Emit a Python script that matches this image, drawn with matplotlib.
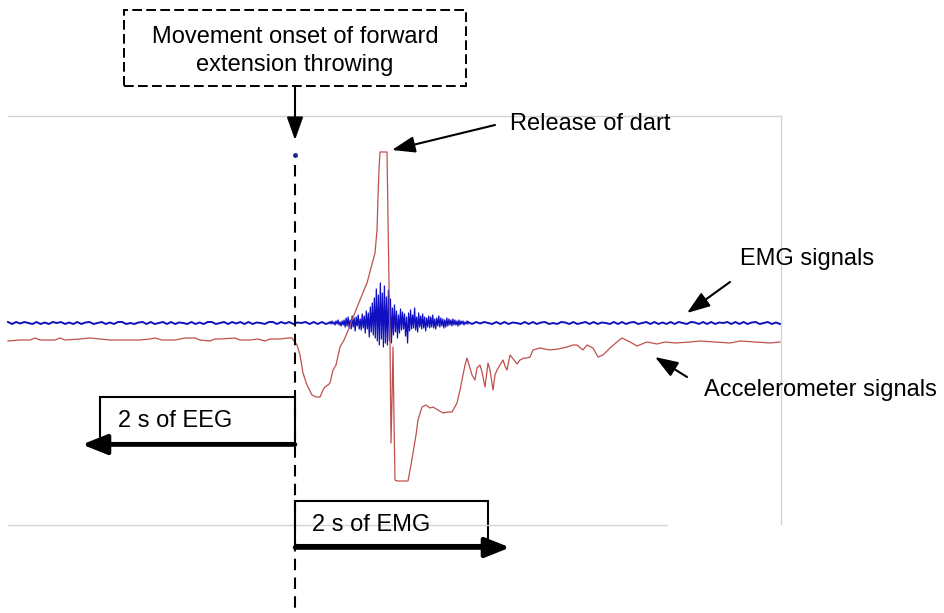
import matplotlib.pyplot as plt
import numpy as np
from matplotlib.patches import Rectangle

plt.rcParams['font.family'] = ['Liberation Sans', 'DejaVu Sans']

# accelerometer trace: time from movement onset (s), amplitude (a.u.)
acc_t = [-2.87, -2.75, -2.65, -2.60, -2.55, -2.40, -2.35, -2.30, -2.15, -2.05,
         -1.95, -1.85, -1.70, -1.55, -1.45, -1.40, -1.33, -1.20, -1.10, -1.00,
         -0.95, -0.85, -0.80, -0.75, -0.60, -0.55, -0.45, -0.37, -0.30, -0.25,
         -0.15, -0.07, -0.03, 0.02, 0.05, 0.08, 0.12, 0.17, 0.21, 0.25,
         0.28, 0.30, 0.33, 0.35, 0.38, 0.41, 0.45, 0.49, 0.52, 0.55,
         0.57, 0.61, 0.65, 0.69, 0.72, 0.76, 0.80, 0.82, 0.83, 0.84,
         0.85, 0.92, 0.93, 0.94, 0.95, 0.96, 0.97, 0.98, 0.99, 1.00,
         1.02, 1.13, 1.16, 1.18, 1.21, 1.23, 1.27, 1.31, 1.35, 1.38,
         1.43, 1.48, 1.53, 1.57, 1.62, 1.65, 1.67, 1.70, 1.72, 1.75,
         1.77, 1.80, 1.82, 1.85, 1.87, 1.90, 1.93, 1.95, 1.98, 2.00,
         2.02, 2.05, 2.08, 2.10, 2.12, 2.15, 2.19, 2.22, 2.25, 2.29,
         2.32, 2.35, 2.38, 2.45, 2.55, 2.63, 2.72, 2.78, 2.82, 2.88,
         2.92, 2.98, 3.03, 3.08, 3.15, 3.22, 3.27, 3.35, 3.42, 3.52,
         3.62, 3.70, 3.80, 3.95, 4.05, 4.20, 4.35, 4.45, 4.60, 4.75, 4.85]
acc_v = [-1, 0, 0, 2, 0, 0, 2, 0, 1, 2,
         1, 0, 0, 0, 1, 2, 0, 0, 2, 2,
         0, -1, 1, 1, 2, 0, 0, 1, -1, 1,
         1, 2, 2, -5, -15, -33, -45, -55, -57, -57,
         -50, -47, -45, -43, -30, -25, -7, 0, 7, 14,
         20, 30, 40, 50, 57, 72, 87, 110, 143, 170,
         188, 188, 120, 57, 0, -103, -60, -7, -80, -140,
         -141, -141, -125, -113, -95, -80, -67, -65, -68, -67,
         -70, -73, -72, -72, -63, -50, -40, -25, -18, -28,
         -35, -40, -28, -25, -32, -47, -23, -30, -50, -35,
         -30, -25, -20, -26, -30, -15, -20, -24, -20, -18,
         -18, -17, -10, -8, -10, -9, -7, -5, -5, -10,
         -5, -8, -17, -15, -8, -2, 2, -2, -6, -2,
         -4, -2, -3, -2, -1, -2, -3, -1, -2, -3, -2]

# EMG trace, three stretches: rest, burst around the release, rest
emg_pre = [1, -1, 1, -0.5, 1, 0, -1, 1, -1, 0.5, -1, 1, 0, 1, -1, 0.5, -1, 1, -1, 0.5,
           1, -1, 0, 1, -1, 0.5, -1, 1, 1, -1, 0, -1, 0.5, 1, -1, 1, -1, 0, 1, -1,
           1, -1, 0.5, 0, -1, 1, -1, 0.5, -1, 1, 1, -1, 0, 1, -1, 1, -0.5, 1, -1, 1,
           -1, 0.5, 0, -1, 1, 1, -1, 1, -0.5, 1, -1, 0.5, 0, 1, -1, 1, -1, 1, -1, 0.5]
emg_burst = [1, -1, 2, -1, 1, -2, 2, -1, 3, -2, 1, -3, 2, -2, 3,
             -4, 5, -3, 6, -5, 3, -6, 7, -4, 5, -8, 6, -3, 8, -6,
             4, -7, 9, -5, 7, -10, 12, -6, 10, -14, 16, -9, 20, -12, 25,
             -15, 34, -18, 28, -22, 40, -16, 30, -24, 37, -20, 26, -22, 33, -18, 24, -20,
             15, -12, 18, -9, 12, -15, 8, -10, 14, -7, 11, -6, 9, -13, 6, -20, 10, -8,
             13, -6, 8, -5, 15, -7, 6, -9, 10, -4, 7, -6, 9, -5, 6, -8, 5, -4, 7, -5,
             6, -4, 8, -5, 4, -6, 5, -3, 7, -4, 5, -3, 4, -5, 3, -4, 5, -3, 4, -2,
             3, -3, 4, -2, 3, -2, 2, -3, 3, -2, 2, -1, 2, -2, 1, -1, 2, -1]
emg_post = [1, -1, 1, -0.5, 1, 0, -1, 1, -1, 1, -1, 0.5, 0, -1, 1, -1, 1, -1, 0.5, 1,
            -1, 0, -1, 1, 0.5, -1, 1, -1, 0, 1, -1, 1, -1, 0.5, 0, -1, 1, -1, 1, -1,
            0.5, 1, -1, 0, 1, -1, 1, -1, 0.5, -1, 1, -1, 1, 0, -1, 1, 0.5, -1, 1, -1,
            1, -1, 0.5, 0, 1, -1, 1, -1, 1, -1, 0.5, 1, -1, 0, 1, -1, 0.5, -1]
emg_offset = 17

t_pre = np.linspace(-2.87, 0.35, len(emg_pre))
t_burst = np.linspace(0.35, 1.73, len(emg_burst))
t_post = np.linspace(1.73, 4.85, len(emg_post))

fig = plt.figure(figsize=(9.45, 6.13), dpi=100)
ax = fig.add_axes([0, 0, 1, 1])
ax.set_xlim(-2.95, 6.50)
ax.set_ylim(-273, 340)
ax.axis('off')

# light frame of the recording window
frame = '#d4d4d4'
ax.plot([-2.87, 4.86], [224, 224], color=frame, lw=1)
ax.plot([4.86, 4.86], [224, -184], color=frame, lw=1)
ax.plot([-2.87, 3.72], [-185, -185], color=frame, lw=1)

emg_col = '#1010c0'
ax.plot(t_pre, np.array(emg_pre) + emg_offset, color=emg_col, lw=1.4)
ax.plot(t_burst, np.array(emg_burst) + emg_offset, color=emg_col, lw=0.9)
ax.plot(t_post, np.array(emg_post) + emg_offset, color=emg_col, lw=1.4)
ax.plot(acc_t, acc_v, color='#c0504d', lw=0.9)

thin = dict(arrowstyle='-|>,head_length=0.7,head_width=0.25', lw=1.5,
            color='k', mutation_scale=20, shrinkA=0, shrinkB=0)
thick = dict(arrowstyle='-|>,head_length=0.75,head_width=0.3', lw=3.3,
             color='k', mutation_scale=20, shrinkA=0, shrinkB=0)

# onset marker
ax.plot([0], [185], 'o', color='#20208a', ms=2.5)
ax.plot([0, 0], [175, -273], color='k', lw=1.5, ls=(0, (5.5, 3.5)))

ax.add_patch(Rectangle((-1.71, 254), 3.42, 76, fill=False, lw=1.4,
                       ls=(0, (5, 2.2)), ec='k'))
ax.text(0, 289, 'Movement onset of forward\nextension throwing', ha='center',
        va='center', fontsize=17, linespacing=1.35)
ax.annotate('', xy=(0, 200), xytext=(0, 254), arrowprops=thin)

# release of dart points at the top of the accelerometer peak
acc_arr = np.array(acc_v)
i_peak = np.where(acc_arr == acc_arr.max())[0][-1]
ax.text(2.15, 216, 'Release of dart', ha='left', va='center', fontsize=17)
ax.annotate('', xy=(acc_t[i_peak] + 0.05, acc_arr.max() + 2), xytext=(2.0, 215),
            arrowprops=thin)

ax.text(4.45, 81, 'EMG signals', ha='left', va='center', fontsize=17)
ax.annotate('', xy=(3.92, 27), xytext=(4.35, 58), arrowprops=thin)

ax.text(4.09, -50, 'Accelerometer signals', ha='left', va='center', fontsize=17)
ax.annotate('', xy=(3.60, -17), xytext=(3.92, -37), arrowprops=thin)

# analysis windows
ax.add_patch(Rectangle((-1.95, -103), 1.95, 46, fill=False, lw=1.5, ec='k'))
ax.text(-1.77, -81, '2 s of EEG', ha='left', va='center', fontsize=17)
ax.annotate('', xy=(-2.13, -104.5), xytext=(0, -104.5), arrowprops=thick)

ax.add_patch(Rectangle((0, -205), 1.93, 44, fill=False, lw=1.5, ec='k'))
ax.text(0.17, -185, '2 s of EMG', ha='left', va='center', fontsize=17)
ax.annotate('', xy=(2.15, -207.5), xytext=(0, -207.5), arrowprops=thick)

fig.savefig('out.png', dpi=100)
